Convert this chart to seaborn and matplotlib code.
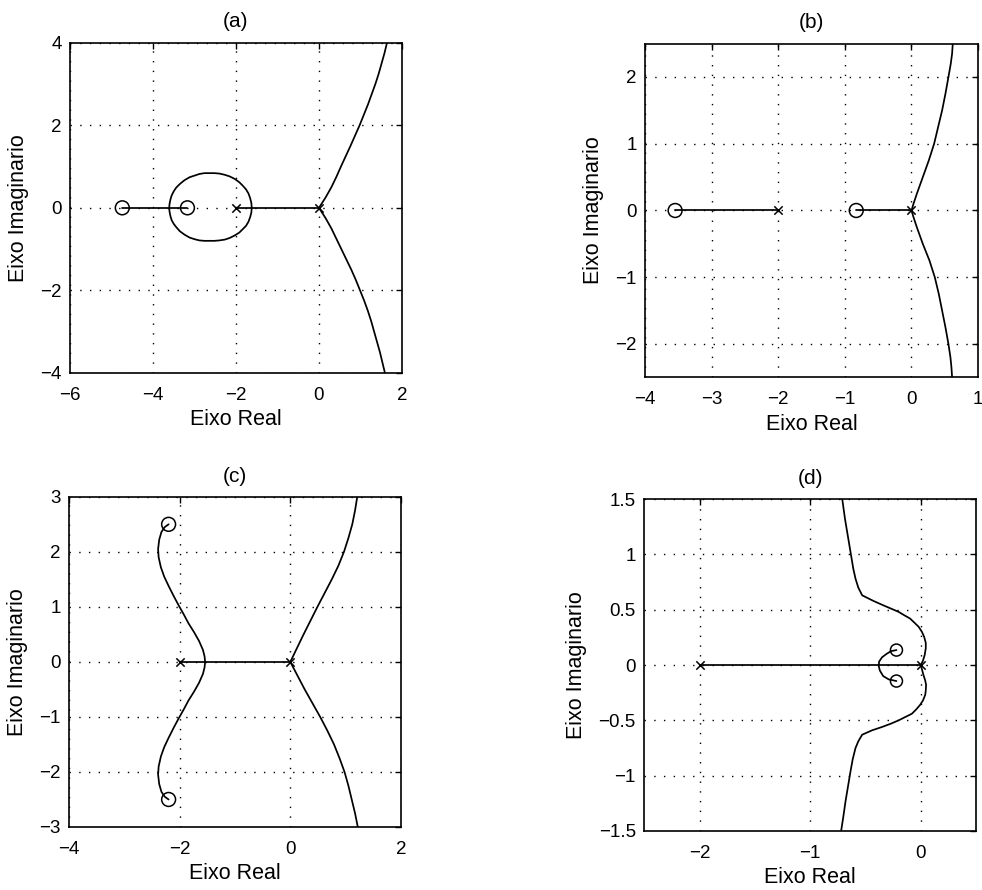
import numpy as np
import pandas as pd
import matplotlib
matplotlib.use("Agg")
import matplotlib.pyplot as plt
import seaborn as sns

# ----------------------------
# Data
# ----------------------------

# (a)
a_poles_x = [-2.0, 0.0]
a_zeros_x = [-4.74, -3.17]
a_seg1_x = [-4.74, -3.17]
a_seg2_x = [-2.0, 0.0]
a_loop_x = [-1.62, -1.63, -1.66, -1.70, -1.76, -1.84, -1.92, -2.03, -2.15, -2.27, -2.40, -2.52, -2.63,
            -2.76, -2.88, -3.00, -3.12, -3.24, -3.35, -3.44, -3.50, -3.55, -3.58, -3.60, -3.61,
            -3.60, -3.58, -3.55, -3.50, -3.43, -3.35, -3.24, -3.12, -3.00, -2.88, -2.76, -2.63,
            -2.52, -2.40, -2.27, -2.15, -2.03, -1.92, -1.84, -1.76, -1.70, -1.66, -1.63, -1.62]
a_loop_y = [0.0, 0.12, 0.24, 0.35, 0.45, 0.54, 0.62, 0.70, 0.76, 0.80, 0.83, 0.84, 0.84,
            0.84, 0.82, 0.78, 0.74, 0.67, 0.58, 0.49, 0.40, 0.30, 0.20, 0.10, 0.0,
            -0.10, -0.20, -0.30, -0.39, -0.48, -0.57, -0.65, -0.72, -0.76, -0.79, -0.80, -0.80,
            -0.80, -0.79, -0.77, -0.73, -0.67, -0.60, -0.52, -0.44, -0.34, -0.23, -0.12, 0.0]
a_up_x = [0.0, 0.16, 0.30, 0.42, 0.53, 0.645, 0.76, 0.87, 0.98, 1.08, 1.18, 1.27, 1.36, 1.44, 1.51, 1.58, 1.64]
a_up_y = [0.0, 0.25, 0.5, 0.75, 1.0, 1.25, 1.5, 1.75, 2.0, 2.25, 2.5, 2.75, 3.0, 3.25, 3.5, 3.75, 4.0]
a_dn_x = [0.0, 0.16, 0.30, 0.42, 0.54, 0.66, 0.78, 0.89, 0.99, 1.09, 1.18, 1.26, 1.33, 1.40, 1.47, 1.53, 1.59]
a_dn_y = [0.0, -0.25, -0.5, -0.75, -1.0, -1.25, -1.5, -1.75, -2.0, -2.25, -2.5, -2.75, -3.0, -3.25, -3.5, -3.75, -4.0]

# (b)
b_poles_x = [-2.0, 0.0]
b_zeros_x = [-3.55, -0.83]
b_seg1_x = [-3.55, -2.0]
b_seg2_x = [-0.83, 0.0]
b_up_x = [0.0, 0.03, 0.08, 0.17, 0.26, 0.34, 0.40, 0.46, 0.51, 0.555, 0.59, 0.61, 0.62]
b_up_y = [0.0, 0.1, 0.25, 0.5, 0.75, 1.0, 1.25, 1.5, 1.75, 2.0, 2.2, 2.35, 2.5]
b_dn_x = [0.0, 0.03, 0.08, 0.17, 0.27, 0.35, 0.41, 0.46, 0.51, 0.555, 0.585, 0.60, 0.61]
b_dn_y = [0.0, -0.1, -0.25, -0.5, -0.75, -1.0, -1.25, -1.5, -1.75, -2.0, -2.2, -2.35, -2.5]

# (c)
c_poles_x = [-2.0, 0.0]
c_zeros_x = [-2.2, -2.2]
c_zeros_y = [2.5, -2.5]
c_seg_x = [-2.0, 0.0]
c_s_x = [-2.20, -2.27, -2.33, -2.37, -2.39, -2.38, -2.34, -2.28, -2.20, -2.11, -2.02, -1.93, -1.84,
         -1.74, -1.65, -1.58, -1.55, -1.54,
         -1.55, -1.58, -1.65, -1.74, -1.84, -1.93, -2.02, -2.11, -2.20, -2.28, -2.34, -2.38,
         -2.39, -2.37, -2.33, -2.27, -2.20]
c_s_y = [2.5, 2.45, 2.36, 2.22, 2.05, 1.90, 1.72, 1.55, 1.38, 1.20, 1.03, 0.87, 0.70,
         0.54, 0.38, 0.22, 0.10, 0.0,
         -0.10, -0.22, -0.38, -0.54, -0.70, -0.87, -1.03, -1.20, -1.38, -1.55, -1.72, -1.90,
         -2.05, -2.22, -2.36, -2.45, -2.5]
c_up_x = [0.0, 0.12, 0.24, 0.365, 0.49, 0.62, 0.75, 0.87, 0.97, 1.05, 1.12, 1.17, 1.21]
c_up_y = [0.0, 0.25, 0.5, 0.75, 1.0, 1.25, 1.5, 1.75, 2.0, 2.25, 2.5, 2.75, 3.0]
c_dn_x = [0.0, 0.13, 0.26, 0.40, 0.54, 0.67, 0.79, 0.89, 0.98, 1.05, 1.11, 1.17, 1.22]
c_dn_y = [0.0, -0.25, -0.5, -0.75, -1.0, -1.25, -1.5, -1.75, -2.0, -2.25, -2.5, -2.75, -3.0]

# (d)
d_poles_x = [-2.0, 0.0]
d_zeros_x = [-0.22, -0.22]
d_zeros_y = [0.135, -0.145]
d_seg_x = [-2.0, 0.0]
d_loop_x = [-0.22, -0.27, -0.31, -0.35, -0.377, -0.38, -0.37, -0.34, -0.29, -0.22]
d_loop_y = [0.135, 0.125, 0.10, 0.07, 0.03, -0.01, -0.05, -0.10, -0.13, -0.145]
d_up_x = [0.0, 0.02, 0.035, 0.045, 0.045, 0.03, 0.01, -0.02, -0.06, -0.097, -0.15, -0.20, -0.27,
          -0.34, -0.43, -0.53, -0.565, -0.59, -0.61, -0.625, -0.64, -0.66, -0.685, -0.71]
d_up_y = [0.0, 0.04, 0.09, 0.15, 0.20, 0.256, 0.30, 0.346, 0.385, 0.42, 0.45, 0.48, 0.51,
          0.54, 0.58, 0.63, 0.70, 0.78, 0.87, 0.96, 1.05, 1.17, 1.32, 1.5]
d_dn_x = [0.0, 0.024, 0.04, 0.048, 0.045, 0.04, 0.02, -0.006, -0.04, -0.08, -0.14, -0.20, -0.27,
          -0.35, -0.44, -0.53, -0.565, -0.59, -0.615, -0.635, -0.655, -0.68, -0.70, -0.72]
d_dn_y = [0.0, -0.09, -0.14, -0.18, -0.23, -0.27, -0.32, -0.36, -0.40, -0.44, -0.47, -0.50, -0.53,
          -0.56, -0.59, -0.63, -0.69, -0.75, -0.85, -0.96, -1.08, -1.23, -1.37, -1.5]

titles = ["(a)", "(b)", "(c)", "(d)"]
xlims = [(-6, 2), (-4, 1), (-4, 2), (-2.5, 0.5)]
ylims = [(-4, 4), (-2.5, 2.5), (-3, 3), (-1.5, 1.5)]
xticks = [[-6, -4, -2, 0, 2], [-4, -3, -2, -1, 0, 1], [-4, -2, 0, 2], [-2, -1, 0]]
yticks = [[-4, -2, 0, 2, 4], [-2, -1, 0, 1, 2], [-3, -2, -1, 0, 1, 2, 3],
          [-1.5, -1, -0.5, 0, 0.5, 1, 1.5]]

# ----------------------------
# Style
# ----------------------------

sns.set_theme(style="white")
plt.rcParams["font.family"] = ["Liberation Sans", "DejaVu Sans"]

fig = plt.figure(figsize=(9.82, 8.90), dpi=100)

positions = [
    [0.0713, 0.581, 0.338, 0.371],
    [0.657, 0.576, 0.339, 0.375],
    [0.0703, 0.0708, 0.338, 0.371],
    [0.656, 0.0663, 0.338, 0.373],
]
axes = [fig.add_axes(p) for p in positions]


def branch(ax, x, y):
    sns.lineplot(x=x, y=y, ax=ax, sort=False, estimator=None,
                 color="black", linewidth=1.25)


def zeros(ax, x, y, s=90):
    sns.scatterplot(x=x, y=y, ax=ax, marker="o", s=s, facecolor="none",
                    edgecolor="black", linewidth=1.1, zorder=5)


def poles(ax, x, y):
    sns.scatterplot(x=x, y=y, ax=ax, marker="x", s=36, color="black",
                    linewidth=1.1, zorder=5)


# (a)
ax = axes[0]
branch(ax, a_seg1_x, [0, 0])
branch(ax, a_seg2_x, [0, 0])
branch(ax, a_loop_x, a_loop_y)
branch(ax, a_up_x, a_up_y)
branch(ax, a_dn_x, a_dn_y)
zeros(ax, a_zeros_x, [0, 0], s=100)
poles(ax, a_poles_x, [0, 0])

# (b)
ax = axes[1]
branch(ax, b_seg1_x, [0, 0])
branch(ax, b_seg2_x, [0, 0])
branch(ax, b_up_x, b_up_y)
branch(ax, b_dn_x, b_dn_y)
zeros(ax, b_zeros_x, [0, 0], s=100)
poles(ax, b_poles_x, [0, 0])

# (c)
ax = axes[2]
branch(ax, c_seg_x, [0, 0])
branch(ax, c_s_x, c_s_y)
branch(ax, c_up_x, c_up_y)
branch(ax, c_dn_x, c_dn_y)
zeros(ax, c_zeros_x, c_zeros_y, s=100)
poles(ax, c_poles_x, [0, 0])

# (d)
ax = axes[3]
branch(ax, d_seg_x, [0, 0])
branch(ax, d_loop_x, d_loop_y)
branch(ax, d_up_x, d_up_y)
branch(ax, d_dn_x, d_dn_y)
zeros(ax, d_zeros_x, d_zeros_y, s=75)
poles(ax, d_poles_x, [0, 0])

# ----------------------------
# Axes cosmetics
# ----------------------------

for i, ax in enumerate(axes):
    ax.set_xlim(*xlims[i])
    ax.set_ylim(*ylims[i])
    ax.set_xticks(xticks[i])
    ax.set_yticks(yticks[i])
    ax.set_xticklabels([f"{t:g}".replace("-", "\u2212") for t in xticks[i]])
    ax.set_yticklabels([f"{t:g}".replace("-", "\u2212") for t in yticks[i]])
    ax.grid(True, color="black", linestyle=(0, (1, 6)), linewidth=1.0)
    ax.tick_params(direction="in", length=4, width=1, colors="black",
                   labelsize=13.5, top=True, right=True)
    ax.tick_params(axis="x", pad=10)
    ax.tick_params(axis="y", pad=6)
    for sp in ax.spines.values():
        sp.set_color("black")
        sp.set_linewidth(1.2)
    ax.set_xlabel("Eixo Real", fontsize=15.5, color="black", labelpad=4)
    ax.set_ylabel("Eixo Imaginario", fontsize=15.5, color="black", labelpad=8)
    ax.set_title(titles[i], fontsize=15, color="black", pad=11)

fig.savefig("out.png", dpi=100, facecolor="white")
